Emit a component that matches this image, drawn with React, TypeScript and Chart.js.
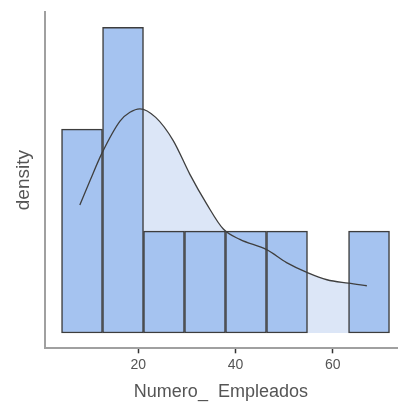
import React, { useEffect, useRef } from "react";
import { Chart, registerables } from "chart.js";

Chart.register(...registerables);

// Histogram of Numero_ Empleados
const binCenters = [8.45, 16.88, 25.3, 33.73, 42.16, 50.59, 59.02, 67.45];
const binCounts = [2, 3, 1, 1, 1, 1, 0, 1];
const nObs = 10;
const binWidth = 8.43;

// Kernel density estimate (x, density)
const densityX = [8.0, 10.06, 12.6, 16.3, 18.3, 20.35, 23.6, 27.2, 30.6, 34.1, 37.5, 40.9, 46.4, 50.5, 54.9, 58.8, 63.2, 67.0];
const densityY = [0.0149, 0.0177, 0.021, 0.0247, 0.0257, 0.0261, 0.0251, 0.0224, 0.0185, 0.015, 0.0121, 0.0109, 0.0097, 0.0082, 0.007, 0.0062, 0.0058, 0.0055];

const xTicks = [20, 40, 60];

export default function App() {
  const ref = useRef<HTMLCanvasElement>(null);
  useEffect(() => {
    document.body.style.margin = "0";
    document.body.style.overflow = "hidden";
    const unit = 1 / (nObs * binWidth);
    const bars = binCenters.map((x, i) => ({ x, y: binCounts[i] * unit }));
    const curve = densityX.map((x, i) => ({ x, y: densityY[i] }));
    const font = "'Liberation Sans', Arial, sans-serif";
    const chart = new Chart(ref.current!, {
      type: "bar",
      data: {
        datasets: [
          {
            type: "line",
            data: curve,
            borderColor: "#3f3f3f",
            borderWidth: 1.3,
            pointRadius: 0,
            fill: false,
            cubicInterpolationMode: "monotone",
            order: 1,
          } as any,
          {
            type: "bar",
            data: bars,
            backgroundColor: "#a5c3f0",
            borderColor: "#3d3d3d",
            borderWidth: 1.5,
            borderSkipped: false,
            barPercentage: 1,
            categoryPercentage: 1,
            order: 2,
          } as any,
          {
            type: "line",
            data: curve,
            borderWidth: 0,
            borderColor: "rgba(0,0,0,0)",
            backgroundColor: "#dce6f7",
            pointRadius: 0,
            fill: "origin",
            cubicInterpolationMode: "monotone",
            order: 3,
          } as any,
        ],
      },
      options: {
        animation: false,
        responsive: false,
        maintainAspectRatio: false,
        plugins: { legend: { display: false }, tooltip: { enabled: false } },
        layout: { padding: { top: 12, right: 2, left: 12, bottom: 6.8 } },
        scales: {
          x: {
            type: "linear",
            min: 0.8,
            max: 73.2,
            offset: false,
            grid: { display: true, offset: false, drawOnChartArea: false, drawTicks: true, tickLength: 5, tickColor: "#333333", tickWidth: 1.5 },
            border: { display: true, color: "#a0a0a0", width: 2 },
            afterBuildTicks: (s: any) => {
              s.ticks = xTicks.map((v) => ({ value: v }));
            },
            ticks: { color: "#555555", font: { family: font, size: 14 }, padding: 3, maxRotation: 0 },
            title: { display: true, text: "Numero_  Empleados", color: "#555555", font: { family: font, size: 18 }, padding: { top: 5.5, bottom: 0 } },
          },
          y: {
            type: "linear",
            min: -0.15 / (nObs * binWidth),
            max: 3.15 / (nObs * binWidth),
            grid: { display: false, drawTicks: false },
            border: { display: true, color: "#a0a0a0", width: 2 },
            ticks: { display: false },
            title: { display: true, text: "density", color: "#555555", font: { family: font, size: 19 }, padding: { top: 0, bottom: 10 } },
          },
        },
      } as any,
    });
    return () => chart.destroy();
  }, []);
  return (
    <div style={{ width: 399, height: 403, overflow: "hidden" }}>
      <canvas ref={ref} width={399} height={410} style={{ display: "block" }} />
    </div>
  );
}
